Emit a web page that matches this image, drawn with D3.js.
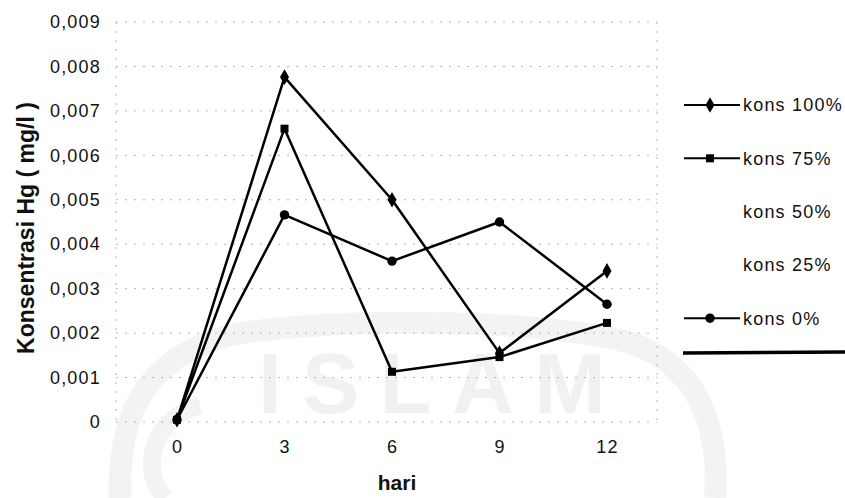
<!DOCTYPE html>
<html>
<head>
<meta charset="utf-8">
<script src="https://cdn.jsdelivr.net/npm/d3@7"></script>
<style>
  body { margin: 0; background: #fff; }
  svg { display: block; font-family: 'Liberation Sans', Arial, sans-serif; }
</style>
</head>
<body>
<svg width="845" height="498"></svg>
<script>
'use strict';
const svg = d3.select('svg');

// data
const days = ['0', '3', '6', '9', '12'];
const kons100 = [0.00005, 0.00776, 0.0050, 0.00155, 0.0034];
const kons75 = [0.00005, 0.0066, 0.00113, 0.00146, 0.00223];
const kons50 = null;
const kons25 = null;
const kons0 = [0.00005, 0.00466, 0.00362, 0.0045, 0.00265];
const seriesNames = ['kons 100%', 'kons 75%', 'kons 50%', 'kons 25%', 'kons 0%'];
const seriesMarkers = ['diamond', 'square', null, null, 'circle'];
const yTicks = [0, 0.001, 0.002, 0.003, 0.004, 0.005, 0.006, 0.007, 0.008, 0.009];
const yTickLabels = ['0', '0,001', '0,002', '0,003', '0,004', '0,005', '0,006', '0,007', '0,008', '0,009'];

const series = [kons100, kons75, kons50, kons25, kons0].map((v, i) => ({
  name: seriesNames[i], marker: seriesMarkers[i], values: v
}));

const plot = {left: 116, right: 657, top: 22, bottom: 422};

const x = d3.scalePoint().domain(days).range([177, 607]);
const y = d3.scaleLinear().domain([0, 0.009]).range([plot.bottom, plot.top]);

// faint watermark
const wm = svg.append('g').attr('fill', 'none').attr('stroke', '#f3f3f3');
wm.append('path')
  .attr('stroke-width', 22)
  .attr('d', 'M120,498 C118,420 140,360 230,335 C330,318 520,318 620,340 C700,360 720,430 715,498');
wm.append('path')
  .attr('stroke-width', 18)
  .attr('d', 'M165,498 C140,470 150,420 200,405');
svg.append('text')
  .attr('x', 258).attr('y', 413)
  .attr('font-size', 86).attr('font-weight', 'bold')
  .attr('letter-spacing', 20)
  .attr('fill', '#f1f1f1')
  .text('ISLAM');

// gridlines
const grid = svg.append('g')
  .attr('stroke', '#b5b5b5')
  .attr('stroke-width', 1)
  .attr('stroke-dasharray', '2,7');
grid.selectAll('line.h').data(yTicks).enter()
  .append('line')
    .attr('x1', plot.left).attr('x2', plot.right)
    .attr('y1', d => y(d)).attr('y2', d => y(d));
grid.selectAll('line.v').data([plot.left, plot.right]).enter()
  .append('line')
    .attr('x1', d => d).attr('x2', d => d)
    .attr('y1', plot.top).attr('y2', plot.bottom);

// y axis
svg.append('g')
  .attr('transform', `translate(${plot.left},0)`)
  .call(d3.axisLeft(y).tickValues(yTicks)
    .tickFormat((d, i) => yTickLabels[i]).tickSize(0).tickPadding(15))
  .call(g => g.select('.domain').remove())
  .selectAll('text')
    .attr('font-size', 18)
    .attr('letter-spacing', 1.2)
    .attr('fill', '#111');

// x axis
svg.append('g')
  .attr('transform', `translate(0,${plot.bottom})`)
  .call(d3.axisBottom(x).tickSize(0).tickPadding(18))
  .call(g => g.select('.domain').remove())
  .selectAll('text')
    .attr('font-size', 18)
    .attr('letter-spacing', 1.2)
    .attr('fill', '#111');

// axis titles
svg.append('text')
  .attr('x', 397).attr('y', 490)
  .attr('text-anchor', 'middle')
  .attr('font-size', 21).attr('font-weight', 'bold')
  .attr('fill', '#111')
  .text('hari');

svg.append('text')
  .attr('transform', 'translate(34,228) rotate(-90)')
  .attr('text-anchor', 'middle')
  .attr('font-size', 23).attr('font-weight', 'bold')
  .attr('fill', '#111')
  .text('Konsentrasi Hg ( mg/l )');

// markers
const symbolType = {diamond: d3.symbolDiamond, square: d3.symbolSquare, circle: d3.symbolCircle};
const symbolSize = {diamond: 70, square: 64, circle: 70};
const symbolPath = m => d3.symbol().type(symbolType[m]).size(symbolSize[m])();

// lines
const line = d3.line()
  .x((d, i) => x(days[i]))
  .y(d => y(d));

const drawn = series.filter(s => s.values);
svg.append('g').selectAll('path').data(drawn).enter()
  .append('path')
    .attr('fill', 'none')
    .attr('stroke', '#000')
    .attr('stroke-width', 2.5)
    .attr('stroke-linejoin', 'round')
    .attr('d', d => line(d.values));

drawn.forEach(s => {
  svg.append('g').selectAll('path').data(s.values).enter()
    .append('path')
      .attr('d', symbolPath(s.marker))
      .attr('fill', '#000')
      .attr('transform', (d, i) => `translate(${x(days[i])},${y(d)})`);
});

// legend
const legend = svg.append('g')
  .selectAll('g').data(series).enter()
  .append('g')
    .attr('transform', (d, i) => `translate(684,${105 + i * 53.3})`);

legend.filter(d => d.marker).append('line')
  .attr('x1', 0).attr('x2', 56)
  .attr('stroke', '#000').attr('stroke-width', 2);
legend.filter(d => d.marker).append('path')
  .attr('d', d => symbolPath(d.marker))
  .attr('transform', 'translate(26,0)')
  .attr('fill', '#000');
legend.append('text')
  .attr('x', 59)
  .attr('dy', '0.35em')
  .attr('font-size', 18)
  .attr('letter-spacing', 1.2)
  .attr('fill', '#111')
  .text(d => d.name);

svg.append('line')
  .attr('x1', 683).attr('x2', 845)
  .attr('y1', 353).attr('y2', 352)
  .attr('stroke', '#000').attr('stroke-width', 3.5);
</script>
</body>
</html>
